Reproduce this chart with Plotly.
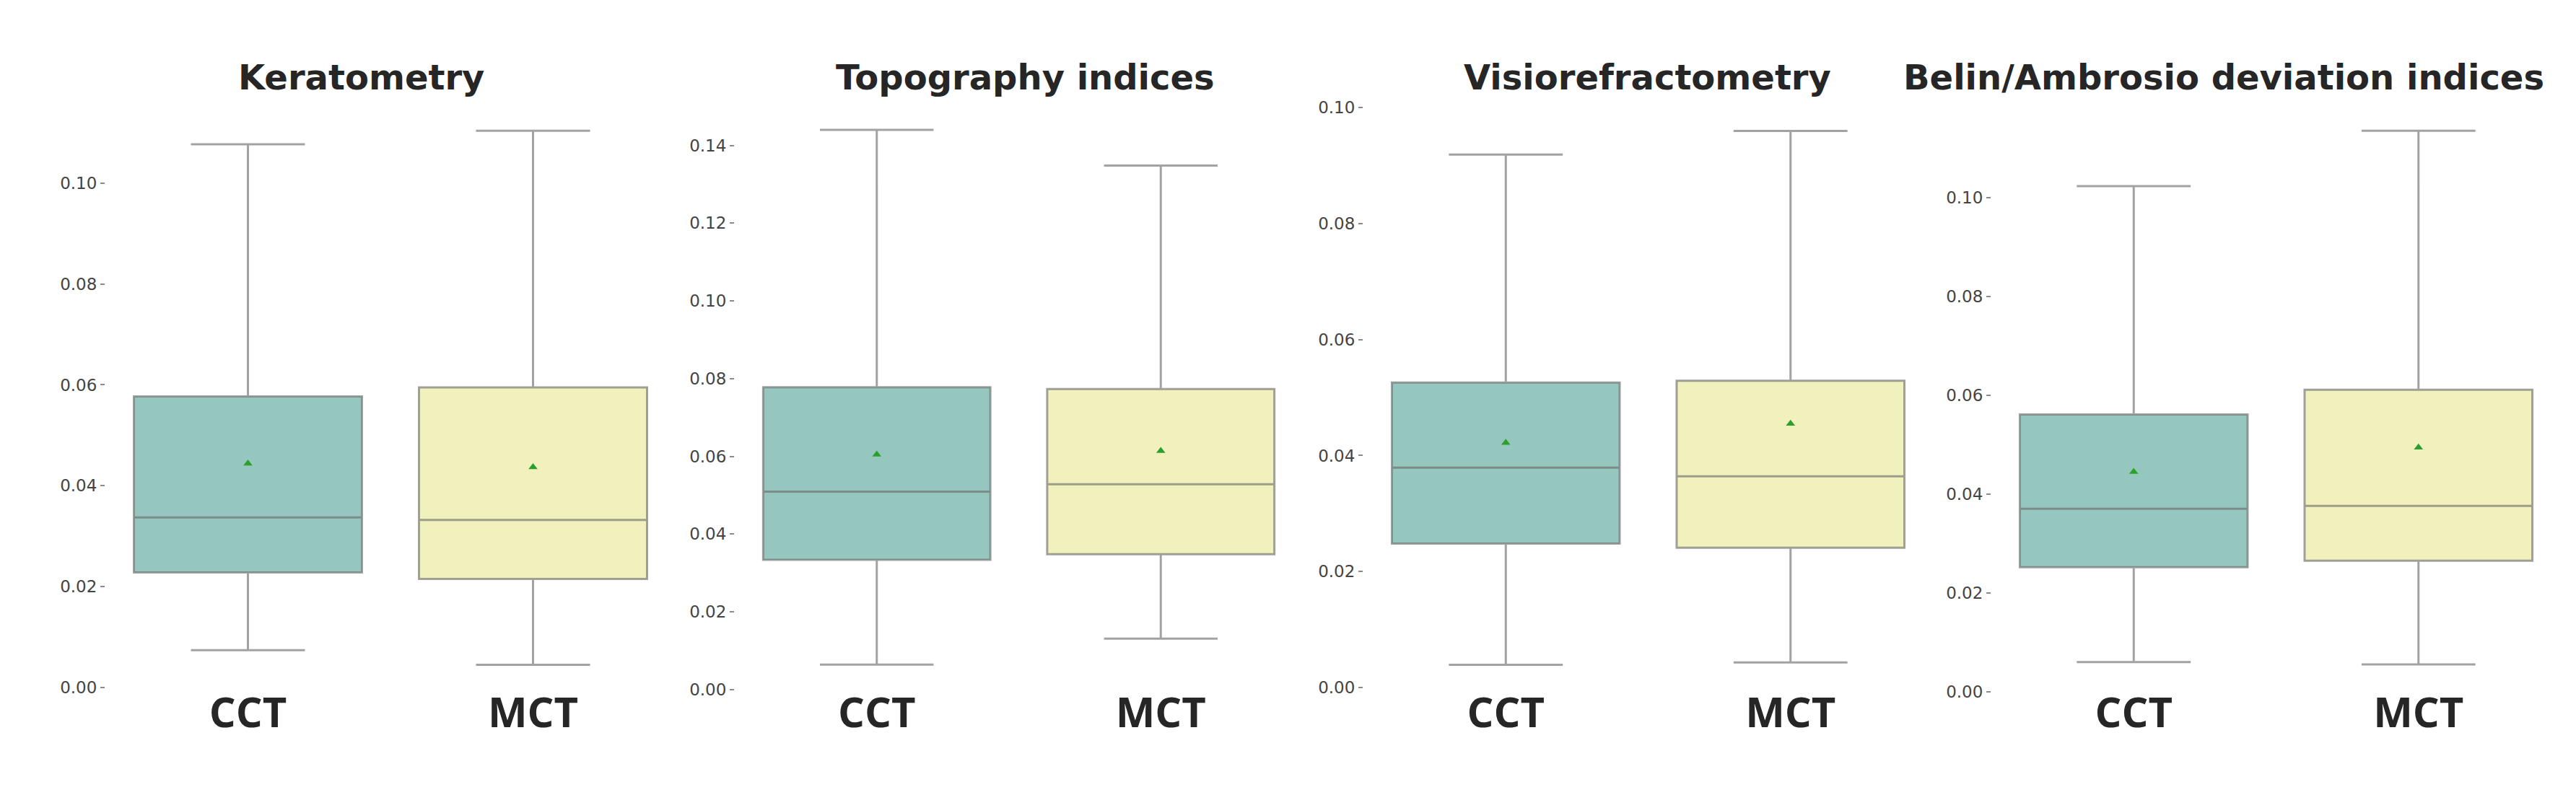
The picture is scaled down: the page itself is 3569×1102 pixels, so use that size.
import plotly.graph_objects as go

# ---------------- data ----------------
panel_titles = ["Keratometry", "Topography indices", "Visiorefractometry",
                "Belin/Ambrosio deviation indices"]
groups = ["CCT", "MCT"]

# per panel: [CCT, MCT]
whisker_low = [[0.0074, 0.0045], [0.0064, 0.0131], [0.0039, 0.0043], [0.0060, 0.0055]]
q1_vals     = [[0.0228, 0.0215], [0.0334, 0.0348], [0.0248, 0.0241], [0.0252, 0.0265]]
medians     = [[0.0337, 0.0332], [0.0509, 0.0528], [0.0379, 0.0364], [0.0370, 0.0376]]
q3_vals     = [[0.0577, 0.0595], [0.0778, 0.0773], [0.0526, 0.0529], [0.0561, 0.0611]]
whisker_high = [[0.1077, 0.1104], [0.1440, 0.1348], [0.0919, 0.0960], [0.1023, 0.1135]]
means       = [[0.0444, 0.0437], [0.0605, 0.0614], [0.0422, 0.0455], [0.0445, 0.0494]]

# ---------------- layout helpers ----------------
W, H = 3569, 1102
x_dom_px = [(138, 928), (1010, 1797), (1881, 2670), (2751, 3540)]
y_top_px, y_bot_px = 130, 962
xaxis_line_px = 950
y_ranges = [(-0.00113, 0.11638), (-0.00092, 0.15155), (-0.00098, 0.10123), (-0.00029, 0.1196)]
title_x_px = [492, 1412, 2274, 3073]
title_y_px = 97

fills = ["#96c7bf", "#f1f1bd"]
line_col = "rgba(105,105,105,0.62)"

fig = go.Figure()
layout = dict(
    width=W, height=H,
    margin=dict(l=0, r=0, t=0, b=0),
    paper_bgcolor="white", plot_bgcolor="white",
    showlegend=False, boxmode="overlay",
    annotations=[],
)

for i in range(4):
    n = "" if i == 0 else str(i + 1)
    xa, ya = "x" + n, "y" + n
    for j, g in enumerate(groups):
        fig.add_trace(go.Box(
            x=[g], q1=[q1_vals[i][j]], median=[medians[i][j]], q3=[q3_vals[i][j]],
            lowerfence=[whisker_low[i][j]], upperfence=[whisker_high[i][j]],
            fillcolor=fills[j], line=dict(color=line_col, width=3),
            width=0.8, whiskerwidth=0.5, boxpoints=False,
            xaxis=xa, yaxis=ya, hoverinfo="skip",
        ))
    fig.add_trace(go.Scatter(
        x=groups, y=means[i], mode="markers",
        marker=dict(symbol="triangle-up", size=11, color="#2ca02c"),
        xaxis=xa, yaxis=ya, hoverinfo="skip",
    ))
    d0, d1 = x_dom_px[i]
    layout["xaxis" + n] = dict(
        domain=[d0 / W, d1 / W], anchor="free", position=(H - xaxis_line_px) / H,
        type="category", categoryorder="array", categoryarray=groups, range=[-0.5, 1.5],
        showgrid=False, zeroline=False, showline=False, ticks="",
        tickfont=dict(family="Open Sans", size=58, color="#262626", weight="bold"),
    )
    layout["yaxis" + n] = dict(
        domain=[(H - y_bot_px) / H, (H - y_top_px) / H], anchor=xa,
        range=list(y_ranges[i]), dtick=0.02, tick0=0, tickformat=".2f",
        showgrid=False, zeroline=False, showline=False,
        ticks="outside", ticklen=6, tickwidth=1.5, tickcolor="#8a8a8a",
        tickfont=dict(family="DejaVu Sans", size=23, color="#444444"),
    )
    layout["annotations"].append(dict(
        text="<b>" + panel_titles[i] + "</b>", xref="paper", yref="paper",
        x=title_x_px[i] / W, y=(H - title_y_px) / H, xanchor="center", yanchor="middle",
        showarrow=False, font=dict(family="DejaVu Sans", size=48, color="#262626"),
    ))

fig.update_layout(**layout)
fig.write_html("out.html")
